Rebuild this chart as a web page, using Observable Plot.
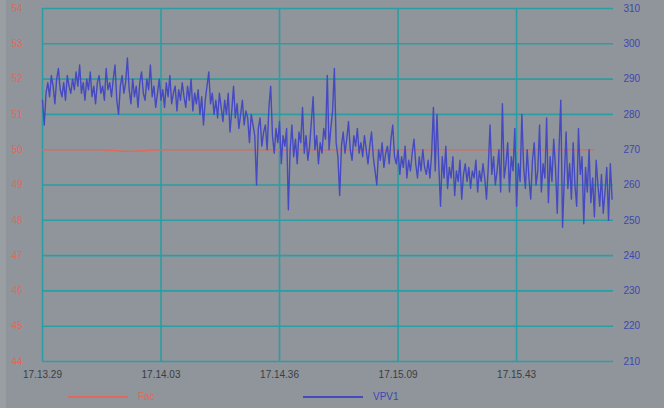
<!DOCTYPE html>
<html>
<head>
<meta charset="utf-8">
<script src="https://cdn.jsdelivr.net/npm/d3@7"></script>
<script src="https://cdn.jsdelivr.net/npm/@observablehq/plot@0.6"></script>
<style>
  body { margin: 0; background: #90959b; }
  #wrap { position: relative; width: 664px; height: 408px; overflow: hidden; background: #90959b;
          font-family: "Liberation Sans", Arial, sans-serif; }
  .strip { position: absolute; left: 0; top: 0; width: 6px; height: 408px; background: #999ea3; }
  .leg { position: absolute; top: 391px; height: 12px; font-size: 10px; line-height: 12px; }
  .leg .sw { position: absolute; top: 5px; height: 1.5px; }
  .leg .tx { position: absolute; top: 0; white-space: nowrap; }
</style>
</head>
<body>
<div id="wrap"><div class="strip"></div></div>
<script>
// Time axis: seconds since 17:13:29, labelled gridlines
const xTickPos = [0, 33.5, 67, 100.5, 134];
const xTickLabels = ["17.13.29", "17.14.03", "17.14.36", "17.15.09", "17.15.43"];
const xEnd = 161.4;

// Right axis (VPV1, V) and left axis (Fac, Hz)
const rightTicks = [210, 220, 230, 240, 250, 260, 270, 280, 290, 300, 310];
const leftTicks = [44, 45, 46, 47, 48, 49, 50, 51, 52, 53, 54];

// VPV1 samples, one every 0.5 s
const vpvStep = 0.5;
const vpv1 = [
  284, 277, 286, 289, 285, 291, 288, 283, 290, 293, 287, 285, 289, 284, 291, 288, 286, 290, 287, 292,
  288, 294, 286, 289, 284, 290, 287, 292, 285, 288, 283, 289, 291, 286, 288, 284, 293, 287, 289, 285,
  290, 294, 284, 280, 288, 291, 286, 289, 296, 287, 283, 290, 285, 288, 282, 289, 292, 286, 284, 290,
  287, 294, 285, 288, 282, 286, 290, 284, 287, 282, 289, 285, 291, 283, 286, 288, 281, 287, 284, 289,
  285, 282, 288, 284, 290, 281, 286, 283, 287, 280, 285, 277, 284, 288, 292, 283, 286, 280, 284, 279,
  286, 282, 278, 284, 280, 286, 275, 281, 288, 279, 283, 276, 280, 284, 277, 281, 279, 272, 280, 277,
  274, 260, 276, 279, 271, 275, 277, 270, 282, 288, 274, 269, 276, 272, 278, 266, 274, 271, 276, 253,
  270, 277, 268, 273, 266, 275, 272, 282, 269, 274, 267, 271, 278, 285, 270, 274, 266, 272, 269, 276,
  273, 291, 270, 276, 281, 293, 272, 268, 257, 271, 275, 269, 273, 278, 270, 267, 274, 271, 276, 269,
  272, 268, 274, 270, 266, 271, 275, 268, 264, 260, 270, 267, 272, 265, 269, 271, 266, 273, 277, 268,
  266, 270, 263, 268, 265, 271, 262, 267, 264, 269, 273, 266, 262, 268, 264, 270, 265, 263, 267, 262,
  269, 282, 264, 280, 266, 254, 268, 262, 271, 259, 265, 262, 268, 257, 264, 261, 267, 256, 263, 266,
  261, 265, 259, 264, 262, 267, 258, 264, 261, 266, 262, 256, 265, 277, 263, 268, 260, 264, 270, 258,
  283, 262, 266, 272, 258, 268, 264, 276, 254, 266, 261, 280, 265, 259, 270, 262, 256, 267, 272, 260,
  264, 277, 258, 266, 262, 279, 255, 268, 261, 273, 265, 252, 270, 284, 248, 262, 275, 259, 266, 256,
  272, 260, 254, 276, 263, 268, 249, 265, 258, 270, 255, 262, 251, 267, 260, 254, 263, 252, 258, 265,
  250, 266, 256
];

// Fac samples, one every 8.2 s
const facStep = 8.2;
const fac = [
  50.0, 50.0, 50.0, 49.95, 50.0, 50.0, 50.0, 50.0, 50.0, 50.0,
  50.0, 50.0, 50.0, 50.0, 50.0, 50.0, 50.0, 50.0, 50.0, 50.0
];

const teal = "#2a9ea2";
const blue = "#4549c2";
const red = "#de6a5c";

// Fac (left axis) is placed on the shared y scale of VPV1 (right axis)
const facToY = f => 210 + (f - 44) * 10;
// the 50 Hz reference level carries the Fac trace instead of a gridline
const gridValues = rightTicks.filter(v => v !== facToY(50));

const plot = Plot.plot({
  width: 664,
  height: 408,
  marginLeft: 42,
  marginRight: 51,
  marginTop: 8,
  marginBottom: 47,
  style: { background: "transparent", fontSize: "10px", fontFamily: "Liberation Sans, Arial, sans-serif" },
  x: { domain: [0, xEnd] },
  y: { domain: [210, 310] },
  marks: [
    Plot.gridY(gridValues, { stroke: teal, strokeWidth: 1.6, strokeOpacity: 1 }),
    Plot.gridX(xTickPos, { stroke: teal, strokeWidth: 1.6, strokeOpacity: 1 }),
    Plot.axisY({ anchor: "right", ticks: rightTicks, tickSize: 0, tickPadding: 10, color: "#3d47b0", label: null }),
    Plot.axisY({ anchor: "left", ticks: leftTicks.map(facToY), tickFormat: (d, i) => leftTicks[i],
                 tickSize: 0, tickPadding: 20, color: red, label: null }),
    Plot.axisX({ ticks: xTickPos, tickFormat: (d, i) => xTickLabels[i], tickSize: 0, tickPadding: 9,
                 color: "#3a3d42", label: null }),
    Plot.line(fac, { x: (d, i) => i * facStep, y: facToY, stroke: red, strokeWidth: 1.5 }),
    Plot.line(vpv1, { x: (d, i) => i * vpvStep, y: d => d, stroke: blue, strokeWidth: 1.4 })
  ]
});

const wrap = document.getElementById("wrap");
plot.style.position = "absolute";
plot.style.left = "0";
plot.style.top = "0";
wrap.appendChild(plot);

// Legend under the chart
const legendItems = [
  { name: "Fac", color: red, left: 68, textColor: red },
  { name: "VPV1", color: blue, left: 303, textColor: "#3d47b0" }
];
for (const it of legendItems) {
  const el = document.createElement("div");
  el.className = "leg";
  el.style.left = it.left + "px";
  el.innerHTML = `<div class="sw" style="left:0;width:60px;background:${it.color}"></div>` +
                 `<div class="tx" style="left:70px;color:${it.textColor}">${it.name}</div>`;
  wrap.appendChild(el);
}
</script>
</body>
</html>
